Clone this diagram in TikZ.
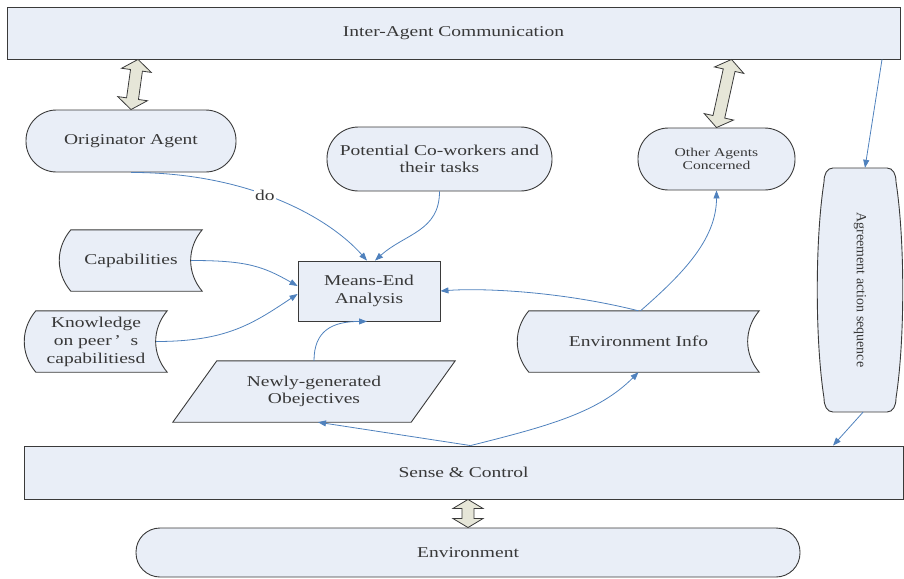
\documentclass[tikz,border=0pt]{standalone}
\usepackage{fontspec}
\setmainfont{Liberation Serif}[FakeStretch=1.3]
\newfontfamily\plainserif{Liberation Serif}
\usetikzlibrary{arrows.meta,calc,backgrounds}
\definecolor{boxfill}{HTML}{E9EEF7}
\definecolor{boxline}{HTML}{3A3A3A}
\definecolor{linkblue}{HTML}{4F81BD}
\definecolor{fatfill}{HTML}{E6E6D8}
\definecolor{inkgray}{HTML}{383838}
\tikzset{
  font=\fontsize{15}{17.5}\selectfont,
  block/.style={
    draw=boxline,
    fill=boxfill,
    line width=.9pt,
    align=center,
    inner sep=2pt,
    text=inkgray
  },
  rectblock/.style={block, rectangle},
  termblock/.style={block, rectangle, rounded corners=#1},
  holder/.style={align=center, inner sep=2pt, text=inkgray},
  outline/.style={draw=boxline, fill=boxfill, line width=.9pt},
  arrow/.style={-{Triangle[length=8pt,width=6pt]}, draw=linkblue, line width=.8pt},
  fatlink/.style={draw=boxline, fill=fatfill, line width=.8pt, line join=miter}
}
\newcommand{\fatarrow}[3]{%
  \coordinate (fatA) at (#1);
  \coordinate (fatB) at (#2);
  \coordinate (fatHA) at ($(fatA)!#3!(fatB)$);
  \coordinate (fatHB) at ($(fatB)!#3!(fatA)$);
  \draw[fatlink] (fatA) -- ($(fatHA)!15pt!90:(fatB)$) -- ($(fatHA)!6pt!90:(fatB)$)
    -- ($(fatHB)!6pt!-90:(fatA)$) -- ($(fatHB)!15pt!-90:(fatA)$) -- (fatB)
    -- ($(fatHB)!15pt!90:(fatA)$) -- ($(fatHB)!6pt!90:(fatA)$)
    -- ($(fatHA)!6pt!-90:(fatB)$) -- ($(fatHA)!15pt!-90:(fatB)$) -- cycle;
}

\begin{document}
\begin{tikzpicture}[x=1pt, y=1pt]
  \useasboundingbox (0,0) rectangle (904,-578);

  \node[rectblock, minimum width=893pt, minimum height=52pt] (comm) at (453.5,-33)
    {Inter-Agent Communication};
  \node[termblock=30.5pt, minimum width=210pt, minimum height=62pt] (orig) at (131,-141)
    {Originator Agent};
  \node[termblock=31.5pt, minimum width=225pt, minimum height=64pt] (cowork) at (439.5,-159)
    {Potential Co-workers and\\their tasks};
  \node[termblock=30.5pt, minimum width=157pt, minimum height=62pt,
        font=\fontsize{12}{13.5}\selectfont] (others) at (716.5,-159)
    {Other Agents\\Concerned};
  \node[holder, minimum width=86pt, minimum height=244pt] (agree) at (860,-290)
    {\rotatebox{-90}{\plainserif\fontsize{14}{16}\selectfont Agreement action sequence}};

  \node[rectblock, minimum width=142pt, minimum height=60pt] (means) at (369,-291)
    {Means-End\\Analysis};
  \node[holder, minimum width=142pt, minimum height=61pt] (capab) at (131,-260.5)
    {Capabilities};
  \node[holder, minimum width=142pt, minimum height=61pt,
        font=\fontsize{15}{18}\selectfont] (knowl) at (96,-341.5)
    {Knowledge\\on peer\,’\ \ s\\capabilitiesd};
  \node[holder, minimum width=241pt, minimum height=61pt] (envinfo) at (638.5,-341.5)
    {Environment Info};
  \node[holder, minimum width=282pt, minimum height=61pt] (newly) at (314,-391.5)
    {Newly-generated\\Obejectives};

  \node[rectblock, minimum width=879pt, minimum height=53pt] (sense) at (463.5,-472.5)
    {Sense \& Control};
  \node[termblock=24pt, minimum width=664pt, minimum height=49pt] (env) at (468,-552.5)
    {Environment};

  \begin{scope}[on background layer]
    \foreach \blk in {capab,knowl,envinfo}
      \draw[outline] ([xshift=11pt]\blk.north west) -- (\blk.north east)
        to[out=-130,in=130] (\blk.south east) -- ([xshift=11pt]\blk.south west)
        to[out=130,in=-130] ([xshift=11pt]\blk.north west) -- cycle;
    \draw[outline] ([xshift=44pt]newly.north west) -- (newly.north east)
      -- ([xshift=-44pt]newly.south east) -- (newly.south west) -- cycle;
    \draw[outline, shift={(agree.center)}] (-27,122) -- (27,122)
      .. controls (33,122) and (36,116) .. (36,108)
      .. controls (45,50) and (45,-50) .. (36,-108)
      .. controls (36,-116) and (33,-122) .. (27,-122) -- (-27,-122)
      .. controls (-33,-122) and (-36,-116) .. (-36,-108)
      .. controls (-45,-50) and (-45,50) .. (-36,108)
      .. controls (-36,116) and (-33,122) .. (-27,122) -- cycle;
  \end{scope}

  \draw[arrow] (orig.south) .. controls +(115,0) and +(-40,45) .. ([xshift=-2pt]means.north)
    node[pos=.45, fill=white, inner sep=1pt, text=inkgray] (dolabel) {do};
  \draw[arrow] (cowork.south) .. controls +(0,-40) and +(30,27) .. ([xshift=6pt]means.north);
  \draw[arrow] ([xshift=-11pt]capab.east) .. controls +(55,0) and +(-35,20) .. ([yshift=5pt]means.west);
  \draw[arrow] ([xshift=-11pt]knowl.east) .. controls +(70,0) and +(-45,-30) .. ([yshift=-3pt]means.west);
  \draw[arrow] (newly.north) .. controls +(0,30) and +(-35,0) .. ([xshift=-2pt]means.south);
  \draw[arrow] (envinfo.north) .. controls +(-80,20) and +(40,3) .. (means.east);
  \draw[arrow] ([xshift=2pt]envinfo.north) .. controls +(40,35) and +(0,-50) .. (others.south);
  \draw[arrow] ([xshift=7pt]sense.north) -- ([xshift=4pt]newly.south);
  \draw[arrow] ([xshift=7pt]sense.north) .. controls +(80,20) and +(-40,-40) .. (envinfo.south);
  \draw[arrow] ([xshift=428.5pt]comm.south) -- ([xshift=5pt]agree.north);
  \draw[arrow] ([xshift=3pt]agree.south) -- ([xshift=369.5pt]sense.north);

  \path (comm.south -| orig.north) ++(7pt,0) coordinate (linkA);
  \fatarrow{linkA}{orig.north}{11pt}
  \path (comm.south -| others.north) ++(15pt,0) coordinate (linkB);
  \fatarrow{linkB}{others.north}{11pt}
  \fatarrow{sense.south -| env.north}{env.north}{9pt}
\end{tikzpicture}
\end{document}
